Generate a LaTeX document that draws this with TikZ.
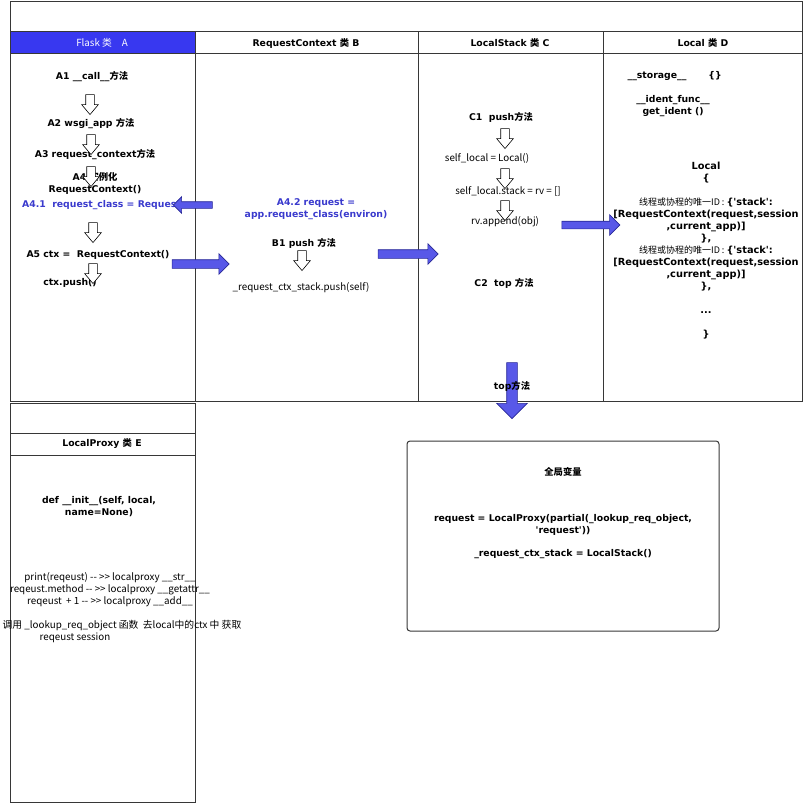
\documentclass[tikz,border=0pt]{standalone}
\usepackage{fontspec}
\setmainfont{DejaVu Sans}
\newfontfamily\cjk{Noto Sans CJK SC}
\usetikzlibrary{shapes.arrows}
\definecolor{headblue}{RGB}{56,56,240}
\definecolor{arrowblue}{RGB}{88,88,232}
\definecolor{arrowedge}{RGB}{40,40,150}
\definecolor{textblue}{RGB}{58,58,205}
\definecolor{framegray}{RGB}{55,55,55}
\newcommand{\zh}[1]{{\cjk #1}}
\tikzset{
  boldtext/.style={font=\bfseries\fontsize{9.3}{12}\selectfont, inner sep=0pt, align=center},
  plaintext/.style={font=\cjk\fontsize{9.8}{12}\selectfont, inner sep=0pt, align=center},
  bluetext/.style={boldtext, text=textblue},
  hollowarrow/.style={single arrow, draw=black, fill=white, line width=.6pt,
    shape border rotate=270, minimum height=20pt, inner sep=4pt,
    single arrow head extend=4pt, single arrow tip angle=80},
  bluearrow/.style={single arrow, draw=arrowedge, fill=arrowblue, line width=.6pt},
  frameline/.style={draw=framegray, line width=1pt}
}
\begin{document}
\begin{tikzpicture}[x=1pt,y=-1pt]
\useasboundingbox (0,0) rectangle (805,805);
% top frame with the four classes
\fill[headblue] (10,32) rectangle (195,54);
\draw[frameline] (10,2) rectangle (802,401);
\draw[frameline] (10,32) -- (802,32) (10,54) -- (802,54);
\foreach \x in {195,418,603} % edit here for the column lines
\draw[frameline] (\x,32) -- (\x,401);
% LocalProxy box
\draw[frameline] (10,403) rectangle (195,802);
\draw[frameline] (10,433) -- (195,433) (10,455) -- (195,455);
% global box
\draw[frameline, rounded corners=3pt] (407,441) rectangle (719,631);

% headers
\node[plaintext, text=white] (headA) at (102,43) {Flask \zh{类}\quad A};
\node[boldtext] (headB) at (306,43) {RequestContext \zh{类} B};
\node[boldtext] (headC) at (510,43) {LocalStack \zh{类} C};
\node[boldtext] (headD) at (703,43) {Local \zh{类} D};
\node[boldtext] (headE) at (102,444) {LocalProxy \zh{类} E};

% Flask A
\node[boldtext] (a1) at (92,77) {A1 \_\_call\_\_\zh{方法}};
\node[boldtext] (a2) at (91,124) {A2 wsgi\_app \zh{方法}};
\node[boldtext] (a3) at (95,155) {A3 request\_context\zh{方法}};
\node[boldtext] (a4) at (95,183) {A4 \zh{实例化}\\RequestContext()};
\node[bluetext, anchor=west] (a41) at (22,205) {A4.1\ \ request\_class = Request};
\node[boldtext] (a5) at (98,255) {A5 ctx =\ \ RequestContext()};
\node[boldtext] (push) at (70,283) {ctx.push()};
\foreach \x/\y in {90/102,91/142,91/174,93/230,93/271} % edit here for the small arrows
\node[hollowarrow] at (\x,\y) {};

% RequestContext B
\node[bluetext] (a42) at (316,209) {A4.2 request =\\app.request\_class(environ)};
\node[boldtext] (b1) at (304,243) {B1 push \zh{方法}};
\node[hollowarrow] (b1down) at (302,258) {};
\node[plaintext] (b2) at (301,288) {\_request\_ctx\_stack.push(self)};

% LocalStack C
\node[boldtext] (c1) at (501,117) {C1\ \ push\zh{方法}};
\node[plaintext] (c11) at (487,158) {self\_local = Local()};
\node[plaintext] (c12) at (508,191) {self\_local.stack = rv = {[]}};
\node[plaintext] (c13) at (505,222) {rv.append(obj)};
\foreach \y in {136,176,208}
\node[hollowarrow] at (505,\y) {};
\node[boldtext] (c2) at (504,283) {C2\ \ top \zh{方法}};

% Local D
\node[boldtext] (storage) at (657,76) {\_\_storage\_\_};
\node[boldtext] (dict) at (715,76) {\{\}};
\node[boldtext] (ident) at (673,106) {\_\_ident\_func\_\_\\get\_ident ()};
\node[boldtext, font=\bfseries\fontsize{9.8}{12}\selectfont, anchor=north] (local) at (706,162) {Local\\\{\\\mbox{}\\
  {\cjk\mdseries\fontsize{9}{12}\selectfont 线程或协程的唯一ID : }\{\textquotesingle stack\textquotesingle :\\
  {[}RequestContext(request,session\\,current\_app){]}\\\},\\
  {\cjk\mdseries\fontsize{9}{12}\selectfont 线程或协程的唯一ID : }\{\textquotesingle stack\textquotesingle :\\
  {[}RequestContext(request,session\\,current\_app){]}\\\},\\\mbox{}\\
  ...\\\mbox{}\\\}};

% LocalProxy E
\node[boldtext] (init) at (99,507) {def \_\_init\_\_(self, local,\\name=None)};
\node[plaintext] (magic) at (110,590) {print(reqeust) -{}- >> localproxy \_\_str\_\_\\
  reqeust.method -{}- >> localproxy \_\_getattr\_\_\\
  reqeust\ \ + 1 -{}- >> localproxy \_\_add\_\_};
\node[plaintext] (lookup) at (122,626) {调用 \_lookup\_req\_object 函数\ \ 去local中的ctx 中 获取};
\node[plaintext] (session) at (75,638) {reqeust session};

% global variables
\node[boldtext] (glob) at (563,472) {\zh{全局变量}};
\node[boldtext] (greq) at (563,525) {request = LocalProxy(partial(\_lookup\_req\_object,\\\textquotesingle request\textquotesingle))};
\node[boldtext] (gstack) at (563,554) {\_request\_ctx\_stack = LocalStack()};

% blue arrows between the classes
\node[bluearrow, shape border rotate=180, minimum height=39pt, inner sep=3pt,
  single arrow head extend=5pt] (backA) at (194.5,205) {};
\node[bluearrow, minimum height=57pt, inner sep=4pt,
  single arrow head extend=6pt] (toB) at (198.5,264) {};
\node[bluearrow, minimum height=60pt, inner sep=4pt,
  single arrow head extend=6pt] (toC) at (406,254) {};
\node[bluearrow, minimum height=58pt, inner sep=3.5pt,
  single arrow head extend=6.5pt] (toD) at (589,225) {};
\node[bluearrow, shape border rotate=270, minimum height=56pt, inner sep=5pt,
  single arrow head extend=10pt] (toGlob) at (512,388) {};
\node[boldtext] (top) at (512,386) {top\zh{方法}};
\end{tikzpicture}
\end{document}
